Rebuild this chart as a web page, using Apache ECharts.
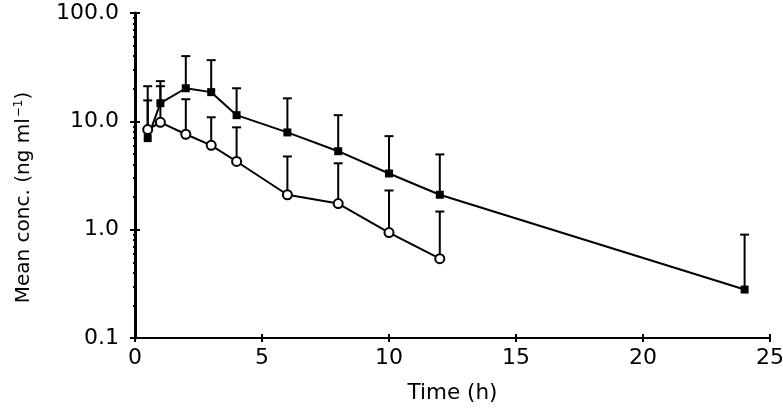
<!DOCTYPE html>
<html>
<head>
<meta charset="utf-8">
<script src="https://cdn.jsdelivr.net/npm/echarts@6/dist/echarts.min.js"></script>
<style>html,body{margin:0;padding:0;background:#fff}#c{width:783px;height:413px}</style>
</head>
<body>
<div id="c"></div>
<script>
// Upper curve (squares)
const timeA = [0.5, 1, 2, 3, 4, 6, 8, 10, 12, 24];
const meanA = [7.0, 14.7, 20.2, 18.6, 11.4, 7.9, 5.3, 3.3, 2.1, 0.28];
const upperA = [21.1, 23.5, 40, 36.7, 20.2, 16.3, 11.4, 7.3, 4.95, 0.90];
// Lower curve (circles)
const timeB = [0.5, 1, 2, 3, 4, 6, 8, 10, 12];
const meanB = [8.4, 9.8, 7.6, 6.0, 4.26, 2.1, 1.74, 0.94, 0.54];
const upperB = [15.6, 21.1, 16.0, 10.9, 8.8, 4.74, 4.1, 2.3, 1.47];
// Axis ticks
const yMajor = [0.1, 1, 10, 100];
const xTicks = [0, 5, 10, 15, 20, 25];
const yMinor = [];
[0.1, 1, 10].forEach(d => { for (let k = 2; k <= 9; k++) yMinor.push(+(k * d).toFixed(2)); });

const FONT = 'DejaVu Sans';
const chart = echarts.init(document.getElementById('c'), null, {renderer: 'canvas'});

function pairs(t, v) { return t.map((x, i) => [x, v[i]]); }
function bars(t, m, u) { return t.map((x, i) => [x, m[i], u[i]]); }

function errItem(params, api) {
  const x = api.value(0), m = api.value(1), u = api.value(2);
  const p0 = api.coord([x, m]);
  const p1 = api.coord([x, u]);
  const st = {stroke: '#000', lineWidth: 2};
  return {type: 'group', children: [
    {type: 'line', shape: {x1: p0[0], y1: p0[1], x2: p1[0], y2: p1[1]}, style: st},
    {type: 'line', shape: {x1: p1[0] - 4.5, y1: p1[1], x2: p1[0] + 4.5, y2: p1[1]}, style: st}
  ]};
}

function extraY(values, inside, len) {
  return {
    type: 'log', logBase: 10, min: 0.1, max: 100, position: 'left',
    axisLine: {show: false},
    axisLabel: {show: false},
    splitLine: {show: false},
    axisTick: {show: true, inside: inside, length: len, customValues: values,
      lineStyle: {color: '#000', width: 2}}
  };
}

chart.setOption({
  animation: false,
  backgroundColor: '#fff',
  grid: {left: 135, right: 13, top: 13, bottom: 75, containLabel: false, outerBoundsMode: 'none'},
  xAxis: [{
    type: 'value', min: 0, max: 25, interval: 5, position: 'bottom',
    name: 'Time (h)', nameLocation: 'middle', nameGap: 44,
    nameTextStyle: {fontFamily: FONT, fontSize: 21.5, color: '#000'},
    axisLine: {show: true, lineStyle: {color: '#000', width: 2}},
    axisTick: {show: true, length: 4, customValues: xTicks, lineStyle: {color: '#000', width: 2}},
    axisLabel: {fontFamily: FONT, fontSize: 22, color: '#000', margin: 9, customValues: xTicks},
    splitLine: {show: false}
  }, {
    type: 'value', min: 0, max: 25, interval: 5, position: 'bottom',
    axisLine: {show: false}, axisLabel: {show: false}, splitLine: {show: false},
    axisTick: {show: true, inside: true, length: 4, customValues: xTicks, lineStyle: {color: '#000', width: 2}}
  }],
  yAxis: [{
    type: 'log', logBase: 10, min: 0.1, max: 100, position: 'left',
    name: '{a|Mean conc. (ng ml}{s|−1}{a|)}', nameLocation: 'middle', nameGap: 100,
    nameTextStyle: {
      padding: [0, 44, 0, 0],
      rich: {
        a: {fontFamily: FONT, fontSize: 20, color: '#000'},
        s: {fontFamily: FONT, fontSize: 12, color: '#000', padding: [0, 0, 10, 1]}
      }
    },
    axisLine: {show: true, lineStyle: {color: '#000', width: 3}},
    axisTick: {show: true, length: 5, customValues: yMajor, lineStyle: {color: '#000', width: 2}},
    axisLabel: {fontFamily: FONT, fontSize: 22, color: '#000', margin: 16,
      customValues: yMajor, formatter: v => Number(v).toFixed(1)},
    splitLine: {show: false}
  },
    extraY(yMajor, true, 5),
    extraY(yMinor, false, 2),
    extraY(yMinor, true, 2)
  ],
  series: [
    {type: 'custom', renderItem: errItem, data: bars(timeA, meanA, upperA),
      encode: {x: 0, y: [1, 2]}, z: 1, silent: true},
    {type: 'custom', renderItem: errItem, data: bars(timeB, meanB, upperB),
      encode: {x: 0, y: [1, 2]}, z: 1, silent: true},
    {type: 'line', data: pairs(timeA, meanA), symbol: 'rect', symbolSize: 8,
      itemStyle: {color: '#000'}, lineStyle: {color: '#000', width: 2}, z: 3},
    {type: 'line', data: pairs(timeB, meanB), symbol: 'circle', symbolSize: 9,
      itemStyle: {color: '#fff', borderColor: '#000', borderWidth: 2},
      lineStyle: {color: '#000', width: 2}, z: 3}
  ]
});
</script>
</body>
</html>
